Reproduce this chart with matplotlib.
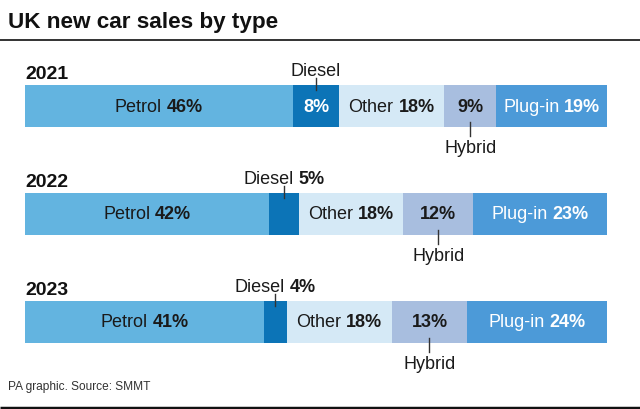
import matplotlib
matplotlib.use("Agg")
import matplotlib.pyplot as plt

years = ["2021", "2022", "2023"]
types = ["Petrol", "Diesel", "Other", "Hybrid", "Plug-in"]
petrol = [46, 42, 41]
diesel = [8, 5, 4]
other = [18, 18, 18]
hybrid = [9, 12, 13]
plugin = [19, 23, 24]

colors = {"Petrol": "#63b4e0", "Diesel": "#0c74b7", "Other": "#d5e9f6",
          "Hybrid": "#a8bedf", "Plug-in": "#4c9ad8"}

FONT = "Liberation Sans"
plt.rcParams["font.family"] = [FONT, "DejaVu Sans"]

W, H = 640, 410
fig = plt.figure(figsize=(W / 100, H / 100), dpi=100)
fig.patch.set_facecolor("white")

x0, x1 = 25, 607
ax = fig.add_axes([x0 / W, 0, (x1 - x0) / W, 1])
ax.set_xlim(0, 100)
ax.set_ylim(H, 0)
ax.axis("off")

ov = fig.add_axes([0, 0, 1, 1], zorder=-1)
ov.set_xlim(0, W)
ov.set_ylim(H, 0)
ov.axis("off")

ov.text(8, 28, "UK new car sales by type", fontsize=16.2, fontweight="bold",
        color="#111111", va="baseline", ha="left")
ov.plot([0, W], [41, 41], color="#222222", lw=1.3, solid_capstyle="butt")
ov.plot([0, W], [409, 409], color="#111111", lw=2.5, solid_capstyle="butt")
ov.text(8, 390, "PA graphic. Source: SMMT", fontsize=8.6, color="#333333",
        va="baseline", ha="left")

fig.canvas.draw()
renderer = fig.canvas.get_renderer()
px_per_unit = (x1 - x0) / 100.0
FS = 13


def width(s, weight):
    t = ax.text(0, 0, s, fontsize=FS, fontweight=weight)
    w = t.get_window_extent(renderer).width
    t.remove()
    return w


def mixed(x, y, name, pct, color, va="center"):
    if name and pct:
        w_full = width(name + " " + pct, "normal")
        w_pct_n = width(pct, "normal")
        off = w_full - w_pct_n
        total = off + width(pct, "bold")
        start = x - total / 2 / px_per_unit
        ax.text(start, y, name, fontsize=FS, color=color, va=va, ha="left")
        ax.text(start + off / px_per_unit, y, pct, fontsize=FS,
                fontweight="bold", color=color, va=va, ha="left")
    elif name:
        ax.text(x, y, name, fontsize=FS, color=color, va=va, ha="center")
    else:
        ax.text(x, y, pct, fontsize=FS, fontweight="bold", color=color,
                va=va, ha="center")


data = list(zip(petrol, diesel, other, hybrid, plugin))
bar_h = 42
for i, (yr, vals) in enumerate(zip(years, data)):
    yc = 107 + 108 * i
    top, bot = yc - bar_h / 2, yc + bar_h / 2
    left = 0
    centers = {}
    for t, v in zip(types, vals):
        ax.barh(yc, v, left=left, height=bar_h, color=colors[t], lw=0)
        centers[t] = left + v / 2
        left += v
    p, d, o, h, pl = vals
    ax.text(0.5 / px_per_unit, top - 7, yr, fontsize=14, fontweight="bold",
            color="#111111", ha="left", va="baseline")
    mixed(centers["Petrol"], yc, "Petrol", f"{p}%", "#1a1a1a")
    mixed(centers["Other"], yc, "Other", f"{o}%", "#1a1a1a")
    mixed(centers["Hybrid"], yc, "", f"{h}%", "#1a1a1a")
    mixed(centers["Plug-in"], yc, "Plug-in", f"{pl}%", "white")
    if i == 0:
        mixed(centers["Diesel"], yc, "", f"{d}%", "white")
        mixed(centers["Diesel"], top - 10, "Diesel", "", "#1a1a1a", va="baseline")
    else:
        mixed(centers["Diesel"], top - 10, "Diesel", f"{d}%", "#1a1a1a", va="baseline")
    ax.plot([centers["Diesel"]] * 2, [top - 7, top + 5], color="#333333", lw=1)
    ax.plot([centers["Hybrid"]] * 2, [bot - 5, bot + 9], color="#333333", lw=1)
    mixed(centers["Hybrid"], bot + 12, "Hybrid", "", "#1a1a1a", va="top")

fig.savefig("out.png", dpi=100, facecolor="white")
